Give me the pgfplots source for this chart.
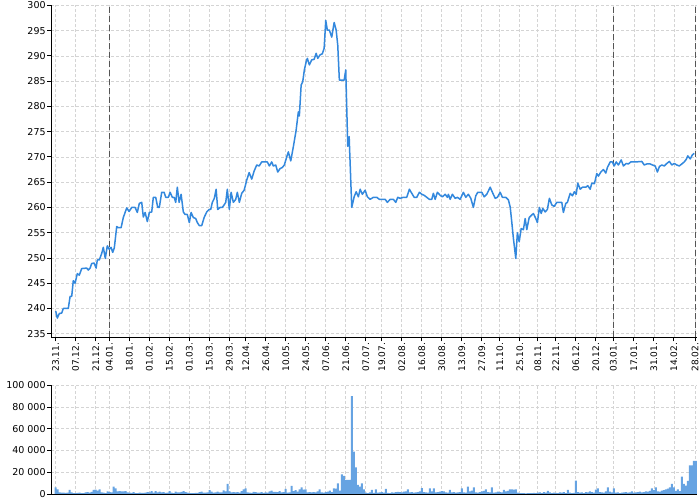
\documentclass[border=0pt]{standalone}
\usepackage{fontspec}
\setmainfont{DejaVu Sans}
\usepackage{pgfplots}
\usepackage{pgfplotstable}
\pgfplotsset{compat=1.18}
\definecolor{pLine}{RGB}{51,136,221}
\definecolor{pBar}{RGB}{102,163,226}
\definecolor{pGrid}{RGB}{212,212,212}
\definecolor{pMark}{RGB}{85,85,85}

% daily volume, one row per trading day (index 0 = 23.11.)
\pgfplotstableread{
v
6100
4300
1500
1200
1300
1100
1200
3700
1400
900
800
1000
1200
700
900
1500
1800
1200
2000
3700
4000
3200
4300
1500
1200
900
2500
1800
1500
6700
5200
2400
2600
2500
2500
2600
1500
1200
1000
1800
900
700
1200
1000
1100
1300
1800
1500
2600
1200
2700
1400
2200
1500
1800
1000
1300
2600
1200
900
2100
1500
1400
2000
2600
1800
1200
900
800
900
1100
1000
1800
2100
1300
1200
1500
3600
2200
1200
1500
2100
1500
1400
3300
2400
9200
2500
1500
1800
1600
1800
1200
2600
4300
5200
1500
1200
1000
1900
1800
1200
1300
1800
1000
1500
1200
2300
3100
2000
1900
1800
2600
1500
1800
4600
1200
1500
7400
2700
3600
2200
4300
6100
4000
4200
1500
1800
1400
1800
1500
2500
4300
1500
1200
1800
2200
3100
1800
5200
5000
9800
3000
18100
16600
12900
12900
12900
90000
39000
24500
8300
6700
9800
4300
1200
800
1500
3700
1000
4300
1200
1500
1800
1200
4600
1000
900
1500
1200
1800
2000
1800
1500
2200
2400
4300
1500
1800
1200
1500
1800
2500
5500
1800
1500
1200
5200
2500
5200
1500
1800
2200
2600
2400
1500
1200
3700
1500
1800
1200
1500
1800
5200
1500
1200
6700
2500
3200
6100
1500
1200
1800
2500
2800
4300
1800
1500
6100
1200
1500
2200
1800
1500
3700
2400
2800
4300
4300
4000
4300
1200
800
900
700
600
900
800
700
1000
800
1200
1500
900
1800
1200
2800
1500
800
1200
1000
900
1500
1200
1800
800
3700
1200
900
1100
12300
1800
1200
1500
900
1800
1500
2500
1800
1200
4000
5200
1800
1500
1200
2500
6100
2200
1500
5200
1200
1500
900
1200
1500
1800
1200
1500
2500
1200
1500
1800
2200
1500
1800
2500
2200
2800
5200
3500
6100
2500
2200
3000
3500
4300
5000
6100
9200
6100
2800
4300
2600
16000
9200
7700
12000
26400
26400
30400
30400
}\voltable

\begin{document}
\begin{tikzpicture}[x=1bp,y=1bp]
\path[use as bounding box] (0,0) rectangle (700,500);
\pgfplotsset{
  common/.style={
    scale only axis,
    width=645.7bp,
    xmin=-2.2, xmax=320.6,
    axis x line=bottom, axis y line=left,
    axis line style={-, black, line width=0.8bp},
    tick align=outside,
    major tick length=4bp,
    tick style={black, line width=0.8bp},
    grid=major,
    major grid style={pGrid, dash pattern=on 3bp off 2bp, line width=0.6bp},
    xtick={0,10,20,26.8,36.8,46.8,56.8,66.8,76.8,86.8,95,105,115,125,135,145,155,163,173,183,193,203,213,222,232,241,250,260,270,278.8,289,299,309,319.7},
    yticklabel style={font=\fontsize{9.5bp}{11bp}\selectfont, inner sep=1.5bp},
    /pgf/number format/assume math mode=true,
  }
}
\begin{axis}[common,
  at={(51.3bp,162.7bp)}, anchor=south west,
  height=332bp,
  ymin=234.3, ymax=300,
  ytick={235,240,...,300},
  xticklabels={23.11.,07.12.,21.12.,04.01.,18.01.,01.02.,15.02.,01.03.,15.03.,29.03.,12.04.,26.04.,10.05.,24.05.,07.06.,21.06.,07.07.,19.07.,02.08.,16.08.,30.08.,13.09.,27.09.,11.10.,25.10.,08.11.,22.11.,06.12.,20.12.,03.01.,17.01.,31.01.,14.02.,28.02.},
  xticklabel style={font=\fontsize{9bp}{10bp}\selectfont, rotate=90, anchor=east, inner sep=1.5bp},
]
\addplot[pMark, dash pattern=on 6bp off 3bp, line width=0.9bp] coordinates {(26.8,234.3) (26.8,300)};
\addplot[pMark, dash pattern=on 6bp off 3bp, line width=0.9bp] coordinates {(278.8,234.3) (278.8,300)};
\addplot[pMark, dash pattern=on 6bp off 3bp, line width=0.9bp] coordinates {(319.7,234.3) (319.7,300)};
\addplot[pLine, line width=1.5bp, mark=none, line join=round] coordinates {
(0,239.5) (0.8,238.1) (1.8,239.0) (3.0,239.1) (3.8,240.0) (5.5,240.0) (6.3,240.0)
(7.2,242.4) (8.0,242.4) (8.8,245.5) (9.7,245.0) (10.8,246.9) (11.8,246.6) (13.0,247.9)
(15.5,248.0) (16.3,247.6) (17.2,248.0) (18.0,248.9) (19.2,249.0) (20.2,248.0) (20.8,249.6)
(21.8,249.6) (23.0,250.9) (23.8,252.1) (24.8,249.9) (25.8,252.4) (26.8,251.7) (27.7,252.1)
(28.5,251.1) (29.3,252.0) (30.5,256.2) (31.3,256.0) (32.7,256.0) (33.8,258.0) (35.5,259.9)
(36.7,259.2) (38.0,260.0) (39.7,260.0) (40.8,259.0) (41.8,260.8) (43.0,261.0) (43.8,258.1)
(44.7,259.0) (45.8,257.2) (46.8,259.0) (48.0,259.1) (48.8,262.0) (50.0,262.0) (51.0,260.0)
(51.8,260.0) (53.0,263.0) (54.2,263.0) (55.0,262.0) (56.3,262.0) (57.2,263.0) (58.3,262.0)
(59.2,262.0) (60.0,261.0) (60.8,264.0) (61.7,261.0) (62.7,262.6) (63.8,259.1) (64.7,258.6)
(65.8,258.6) (66.8,257.0) (67.7,259.0) (68.8,258.0) (70.0,257.8) (70.8,257.0) (71.8,256.4)
(73.0,256.4) (74.2,258.0) (75.5,259.1) (76.7,259.6) (77.5,259.6) (78.3,261.0) (79.3,261.8)
(80.2,263.6) (81.0,259.6) (82.2,260.0) (83.3,260.0) (84.2,260.5) (85.0,261.0) (85.8,263.6)
(86.8,259.6) (87.7,263.0) (88.8,261.0) (90.0,261.6) (90.8,263.0) (91.8,261.0) (93.0,262.8)
(94.2,263.4) (95.5,265.4) (96.7,266.9) (98.0,265.6) (99.2,267.2) (100.5,268.4) (101.7,268.2)
(103.0,269.0) (104.7,269.0) (105.8,269.0) (106.8,268.2) (108.0,269.0) (108.8,268.2) (110.0,268.4)
(111.0,267.0) (112.2,267.7) (113.3,267.9) (114.3,268.4) (115.5,270.0) (116.3,271.0) (117.5,269.2)
(118.8,272.0) (120.2,275.3) (121.3,278.9) (121.8,278.1) (122.7,284.2) (123.5,284.9) (124.3,287.2)
(125.2,288.8) (125.8,289.5) (126.8,288.2) (128.0,289.2) (129.2,289.3) (130.2,290.5) (131.0,289.5)
(132.2,290.2) (133.3,290.4) (134.2,291.5) (135.0,297.0) (135.8,295.1) (136.8,295.1) (138.0,293.7)
(139.2,296.6) (140.2,295.1) (141.0,292.1) (141.8,285.2) (143.3,285.2) (144.2,285.2) (145.0,287.2)
(146.0,272.1) (146.7,274.0) (148.0,260.0) (149.2,262.1) (150.2,263.1) (151.3,262.1) (152.2,263.6)
(153.3,262.6) (154.7,263.4) (155.8,262.1) (157.2,261.6) (158.8,262.0) (160.5,262.0) (161.8,261.6)
(164.7,261.6) (165.8,261.0) (167.2,261.6) (168.8,261.6) (170.0,261.0) (171.0,262.0) (172.2,261.8)
(173.8,262.0) (175.5,262.0) (176.8,263.6) (178.0,262.8) (179.2,262.0) (180.5,262.0) (181.8,263.0)
(183.0,262.6) (184.2,262.4) (185.5,262.0) (186.8,261.6) (188.0,261.6) (188.8,262.8) (189.7,261.6)
(190.8,263.0) (192.2,262.4) (193.3,262.1) (194.7,262.6) (195.8,262.0) (196.3,262.6) (197.2,261.6)
(198.3,262.6) (199.7,261.8) (200.8,262.0) (202.2,261.6) (203.8,263.0) (205.0,262.0) (206.3,262.6)
(207.5,261.8) (208.8,260.0) (210.0,262.3) (211.0,263.0) (213.0,263.0) (214.2,262.1) (215.5,262.6)
(217.2,264.0) (218.3,263.0) (219.7,261.8) (220.8,262.0) (222.2,263.0) (223.3,262.0) (225.0,262.0)
(226.3,261.5) (227.2,260.1) (228.0,257.1) (228.8,253.9) (230.0,249.9) (230.8,255.0) (231.7,253.2)
(232.7,255.8) (233.8,255.6) (234.7,257.8) (235.5,255.6) (236.7,258.0) (237.7,258.4) (238.8,258.8)
(240.0,257.8) (240.8,257.0) (241.8,260.0) (242.7,258.8) (243.5,259.8) (244.7,259.1) (245.8,259.6)
(246.8,261.8) (248.0,260.5) (249.2,260.2) (250.5,261.0) (252.2,261.0) (253.0,261.0) (253.8,259.0)
(255.0,260.8) (255.8,261.0) (257.2,262.8) (258.3,262.3) (259.3,263.1) (260.2,262.6) (261.0,264.8)
(262.2,263.6) (263.3,264.0) (265.0,264.0) (266.0,264.3) (267.2,263.6) (268.0,264.8) (269.3,264.7)
(270.5,266.7) (271.3,266.2) (272.5,267.0) (273.8,267.5) (275.0,266.8) (275.8,267.9) (277.2,269.0)
(278.3,269.0) (279.2,268.2) (280.2,269.0) (281.3,268.4) (282.7,269.4) (283.8,268.2) (285.2,268.7)
(286.3,268.6) (287.5,269.0) (290.0,269.0) (293.0,269.1) (294.2,268.4) (295.5,268.6) (297.2,268.6)
(298.3,268.4) (299.7,268.2) (300.8,267.0) (301.8,268.1) (303.0,268.4) (304.2,268.2) (305.5,268.7)
(306.8,269.1) (308.0,268.4) (309.2,268.7) (310.5,268.4) (311.7,268.2) (313.0,268.6) (314.2,269.0)
(315.2,269.5) (316.0,270.2) (317.2,269.6) (318.3,270.4) (319.2,270.7)
};
\end{axis}
\begin{axis}[common,
  at={(51.3bp,6bp)}, anchor=south west,
  height=108.7bp,
  ymin=0, ymax=100000,
  ytick={0,20000,40000,60000,80000,100000},
  yticklabels={0,20 000,40 000,60 000,80 000,100 000},
  scaled y ticks=false,
  xticklabels=\empty,
  xtick style={draw=none},
]
\addplot[ybar, bar width=2bp, bar shift=0pt, fill=pBar, draw=none] table[x expr=\coordindex, y=v] {\voltable};
\end{axis}
\end{tikzpicture}
\end{document}
